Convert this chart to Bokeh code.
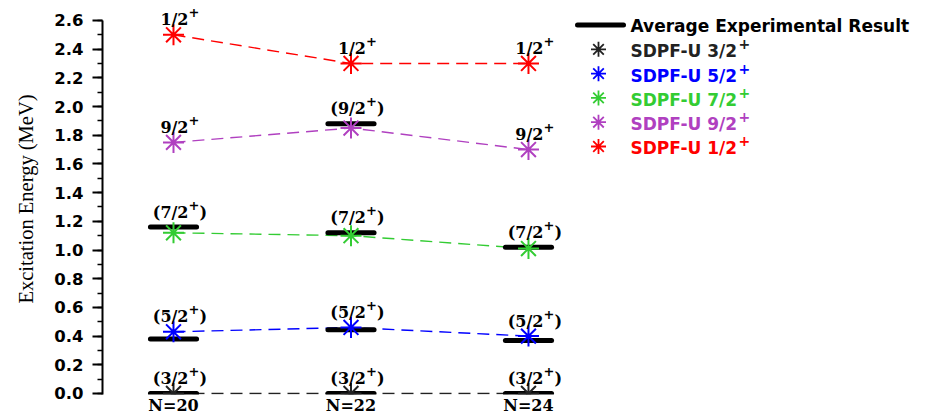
import numpy as np
from bokeh.plotting import figure
from bokeh.layouts import row
from bokeh.models import (Range1d, SingleIntervalTicker, FixedTicker,
                          PrintfTickFormatter, ColumnDataSource)
from bokeh.core.properties import value
from bokeh.embed import file_html
from bokeh.resources import INLINE

# ---- data -------------------------------------------------------------
neutrons = [20, 22, 24]
n_labels = ["N=20", "N=22", "N=24"]

spins = ["3/2", "5/2", "7/2", "9/2", "1/2"]
colors = ["#222222", "#0000FF", "#33CC33", "#B040C0", "#FF0000"]

# SDPF-U shell-model excitation energies (MeV)
sdpfu_32 = [0.00, 0.00, 0.00]
sdpfu_52 = [0.43, 0.46, 0.40]
sdpfu_72 = [1.12, 1.10, 1.01]
sdpfu_92 = [1.75, 1.85, 1.70]
sdpfu_12 = [2.50, 2.30, 2.30]

# averaged experimental level energies (MeV); None = level not observed
exp_32 = [0.00, 0.00, 0.00]
exp_52 = [0.38, 0.445, 0.37]
exp_72 = [1.16, 1.12, 1.02]
exp_92 = [None, 1.88, None]
exp_12 = [None, None, None]

theory = [sdpfu_32, sdpfu_52, sdpfu_72, sdpfu_92, sdpfu_12]
experiment = [exp_32, exp_52, exp_72, exp_92, exp_12]

# ---- styling constants --------------------------------------------------
BAR_HALF = 0.26          # half length of an experimental level bar (N units)
SERIF = value("DejaVu Serif")
SANS = value("DejaVu Sans")
Y_LO, Y_HI = -0.007, 2.718

# ---- main level scheme --------------------------------------------------
p = figure(width=572, height=417, output_backend="svg", toolbar_location=None,
           x_range=Range1d(19.2, 24.496), y_range=Range1d(Y_LO, Y_HI),
           min_border_left=102, min_border_right=0,
           min_border_top=3, min_border_bottom=23)
p.outline_line_color = None
p.grid.visible = False
p.background_fill_color = "white"

ya = p.yaxis[0]
ya.ticker = SingleIntervalTicker(interval=0.2, num_minor_ticks=2)
ya.formatter = PrintfTickFormatter(format="%.1f")
ya.bounds = (Y_LO, 2.6001)
ya.axis_line_width = 2
ya.axis_line_color = "black"
ya.major_tick_line_width = 2
ya.minor_tick_line_width = 1.5
ya.major_tick_out = 10
ya.major_tick_in = 0
ya.minor_tick_out = 5
ya.minor_tick_in = 0
ya.major_label_text_font = "DejaVu Sans"
ya.major_label_text_font_style = "bold"
ya.major_label_text_font_size = "16.5px"
ya.major_label_text_color = "black"
ya.major_label_standoff = 9
ya.axis_label = "Excitation Energy (MeV)"
ya.axis_label_text_font = "Liberation Serif"
ya.axis_label_text_font_style = "normal"
ya.axis_label_text_font_size = "20.5px"
ya.axis_label_text_color = "black"
ya.axis_label_standoff = 14

xa = p.xaxis[0]
xa.ticker = FixedTicker(ticks=neutrons)
xa.major_label_overrides = {n: lab for n, lab in zip(neutrons, n_labels)}
xa.axis_line_color = None
xa.major_tick_line_color = None
xa.minor_tick_line_color = None
xa.major_tick_out = 0
xa.major_tick_in = 0
xa.major_label_standoff = 1
xa.major_label_text_font = "DejaVu Serif"
xa.major_label_text_font_style = "bold"
xa.major_label_text_font_size = "16px"
xa.major_label_text_color = "black"

# dashed trend lines of the calculation
for th, col in zip(theory, colors):
    p.line(neutrons, th, line_color=col, line_width=1.4, line_dash="12 7")

# experimental levels as short thick bars
bx0, bx1, by = [], [], []
for ex in experiment:
    for n, e in zip(neutrons, ex):
        if e is not None:
            bx0.append(n - BAR_HALF)
            bx1.append(n + BAR_HALF)
            by.append(e)
p.segment(x0=bx0, y0=by, x1=bx1, y1=by, line_color="black",
          line_width=5, line_cap="round")

# calculated levels
for th, col in zip(theory, colors):
    p.scatter(neutrons, th, marker="asterisk", size=21,
              line_color=col, line_width=2)

# spin-parity labels above each level; brackets mark tentative assignments
lab = dict(x=[], y=[], main=[])
close = dict(x=[], y=[])
for spin, th, ex in zip(spins, theory, experiment):
    for n, t, e in zip(neutrons, th, ex):
        top = t if e is None else max(t, e)
        lab["x"].append(n)
        lab["y"].append(top)
        lab["main"].append(spin if e is None else "(" + spin)
        if e is not None:
            close["x"].append(n)
            close["y"].append(top)
lab_src = ColumnDataSource(lab)
close_src = ColumnDataSource(close)

p.text(x="x", y="y", text="main", source=lab_src, text_align="right",
       text_baseline="alphabetic", x_offset=15, y_offset=-15,
       text_font=SERIF, text_font_style="bold", text_font_size="16px",
       text_color="black")
p.text(x="x", y="y", text=value("+"), source=lab_src, text_align="left",
       text_baseline="alphabetic", x_offset=15, y_offset=-22.5,
       text_font=SERIF, text_font_style="bold", text_font_size="13px",
       text_color="black")
p.text(x="x", y="y", text=value(")"), source=close_src, text_align="left",
       text_baseline="alphabetic", x_offset=26, y_offset=-15,
       text_font=SERIF, text_font_style="bold", text_font_size="16px",
       text_color="black")

# ---- legend panel -------------------------------------------------------
LEG_W, LEG_H = 358, 417
leg = figure(width=LEG_W, height=LEG_H, output_backend="svg", toolbar_location=None,
             x_range=Range1d(0, LEG_W), y_range=Range1d(LEG_H, 0),
             x_axis_type=None, y_axis_type=None, min_border=0,
             min_border_left=0, min_border_right=0,
             min_border_top=0, min_border_bottom=0)
leg.outline_line_color = None
leg.background_fill_color = "white"

LEG_TOP, LEG_STEP = 23, 25.9
SYM_X0, SYM_X1, SYM_XC, TXT_X = 5, 51, 26, 58
TXT_W = 107      # width of "SDPF-U x/2" at 17px bold

rows_y = LEG_TOP + LEG_STEP * np.arange(len(spins) + 1)

leg.segment(x0=[SYM_X0], y0=[rows_y[0]], x1=[SYM_X1], y1=[rows_y[0]],
            line_color="black", line_width=5, line_cap="round")
leg.text(x=[TXT_X], y=[rows_y[0]], text=["Average Experimental Result"],
         text_align="left", text_baseline="alphabetic", y_offset=1,
         text_font=SANS, text_font_style="bold", text_font_size="17px",
         text_color="black")

sym_y = list(rows_y[1:])
leg_src = ColumnDataSource(dict(
    x=[SYM_XC] * len(spins), tx=[TXT_X] * len(spins), y=sym_y,
    label=["SDPF-U " + s for s in spins], color=colors))
leg.scatter(x="x", y="y", source=leg_src, marker="asterisk", size=15,
            line_color="color", line_width=1.8)
leg.text(x="tx", y="y", text="label", source=leg_src, text_align="left",
         text_baseline="alphabetic", y_offset=2, text_font=SANS,
         text_font_style="bold", text_font_size="17px", text_color="color")
leg.text(x="tx", y="y", text=value("+"), source=leg_src, text_align="left",
         text_baseline="alphabetic", x_offset=TXT_W + 1, y_offset=-5,
         text_font=SANS, text_font_style="bold", text_font_size="14px",
         text_color="color")

layout = row(p, leg)
open("out.html", "w").write(file_html(layout, INLINE))
